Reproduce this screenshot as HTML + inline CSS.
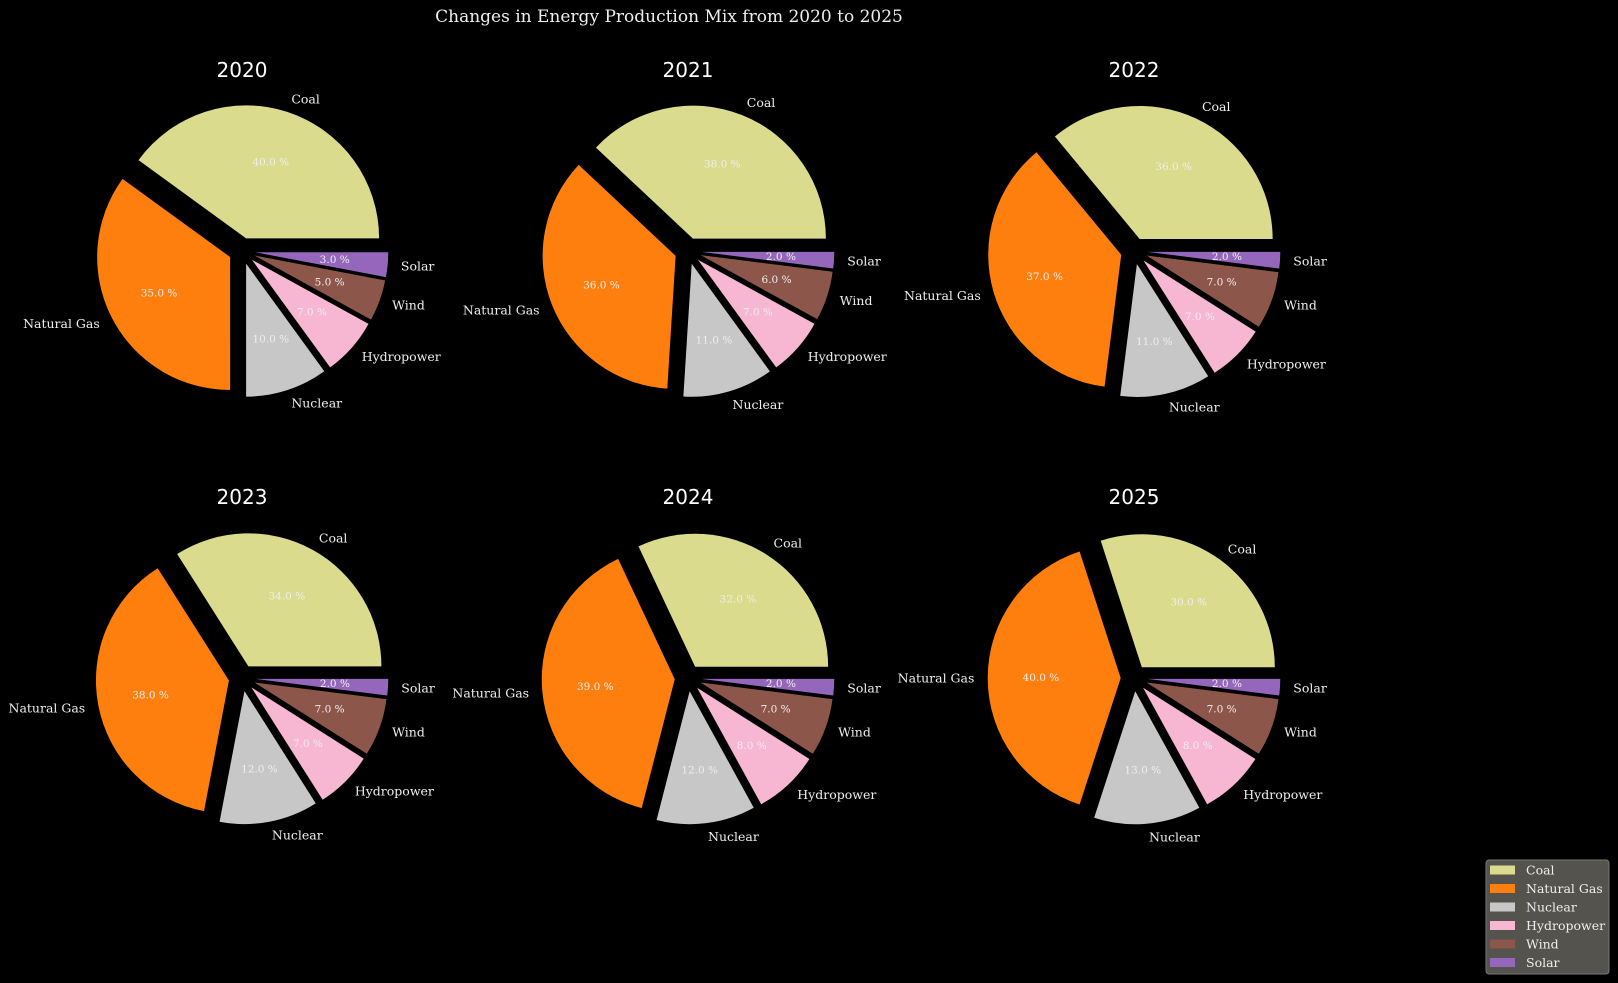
<!DOCTYPE html>
<html><head><meta charset="utf-8">
<style>
html,body{margin:0;padding:0;background:#000;}
svg{display:block;}
.lbl{font-family:"DejaVu Serif","Liberation Serif",serif;font-size:12.5px;fill:#eee;}
.pct{font-family:"DejaVu Serif","Liberation Serif",serif;font-size:10.5px;fill:#eee;}
.ttl{font-family:"DejaVu Sans","Liberation Sans",sans-serif;font-size:20px;fill:#fff;}
</style></head>
<body>
<svg id="chart" width="1618" height="983" viewBox="0 0 1618 983" xmlns="http://www.w3.org/2000/svg">
<rect width="1618" height="983" fill="#000"/>
<text x="669" y="22" text-anchor="middle" style="font-family:'DejaVu Serif','Liberation Serif',serif;font-size:17px;fill:#eee">Changes in Energy Production Mix from 2020 to 2025</text>
<g id="pies"></g>
<g id="legend"></g>
</svg>
<script>
const years = ["2020","2021","2022","2023","2024","2025"];
const categories = ["Coal","Natural Gas","Nuclear","Hydropower","Wind","Solar"];
const colors = ["#dbdb8d","#ff7f0e","#c7c7c7","#f7b6d2","#8c564b","#9467bd"];
const v2020 = [40,35,10,7,5,3];
const v2021 = [38,36,11,7,6,2];
const v2022 = [36,37,11,7,7,2];
const v2023 = [34,38,12,7,7,2];
const v2024 = [32,39,12,8,7,2];
const v2025 = [30,40,13,8,7,2];
const values = [v2020,v2021,v2022,v2023,v2024,v2025];

const NS = "http://www.w3.org/2000/svg";
const R = 133, EXPL = 0.1;
const colX = [242, 688, 1134], rowY = [251, 678];
const pies = document.getElementById('pies');
function mk(tag, attrs, parent){const e=document.createElementNS(NS,tag);for(const k in attrs)e.setAttribute(k,attrs[k]);parent.appendChild(e);return e;}

years.forEach((yr, i) => {
  const cx = colX[i%3], cy = rowY[Math.floor(i/3)];
  const g = mk('g', {}, pies);
  
  
  const t = mk('text', {x:cx, y:cy-174, 'text-anchor':'middle', class:'ttl'}, g);
  t.textContent = yr;
  
  
  const vals = values[i];
  const tot = vals.reduce((a,b)=>a+b,0);
  let a0 = 0;
  vals.forEach((v, j) => {
    const a1 = a0 + v/tot*360;
    const mid = (a0+a1)/2*Math.PI/180;
    const ox = cx + EXPL*R*Math.cos(mid), oy = cy - EXPL*R*Math.sin(mid);
    const r0 = a0*Math.PI/180, r1 = a1*Math.PI/180;
    const x0 = ox + R*Math.cos(r0), y0 = oy - R*Math.sin(r0);
    const x1 = ox + R*Math.cos(r1), y1 = oy - R*Math.sin(r1);
    const large = (a1-a0) > 180 ? 1 : 0;
    const p = mk('path', {d:`M${ox},${oy} L${x0},${y0} A${R},${R} 0 ${large} 0 ${x1},${y1} Z`, fill:colors[j]}, g);
    
    
    const lx = ox + 1.1*R*Math.cos(mid), ly = oy - 1.1*R*Math.sin(mid);
    const l = mk('text', {x:lx, y:ly, 'text-anchor': Math.cos(mid)>0?'start':'end', 'dominant-baseline':'central', class:'lbl'}, g);
    l.textContent = categories[j];
    
    
    const px = ox + 0.6*R*Math.cos(mid), py = oy - 0.6*R*Math.sin(mid);
    const pt = mk('text', {x:px, y:py, 'text-anchor':'middle', 'dominant-baseline':'central', class:'pct'}, g);
    pt.textContent = (v/tot*100).toFixed(1) + ' %';
    
    
    a0 = a1;
  });
});

const lg = document.getElementById('legend');
mk('rect', {x:1486, y:860, width:123, height:114, rx:3, fill:'#55534d', stroke:'#777', 'stroke-width':1}, lg);
categories.forEach((c, j) => {
  const y = 870 + j*18.5;
  const e = mk('g', {}, lg);
  
  
  mk('rect', {x:1490, y:y-4.5, width:25, height:9, fill:colors[j]}, e);
  const t = mk('text', {x:1526, y:y, 'dominant-baseline':'central', class:'lbl'}, e);
  t.textContent = c;
});
</script>
</body></html>
